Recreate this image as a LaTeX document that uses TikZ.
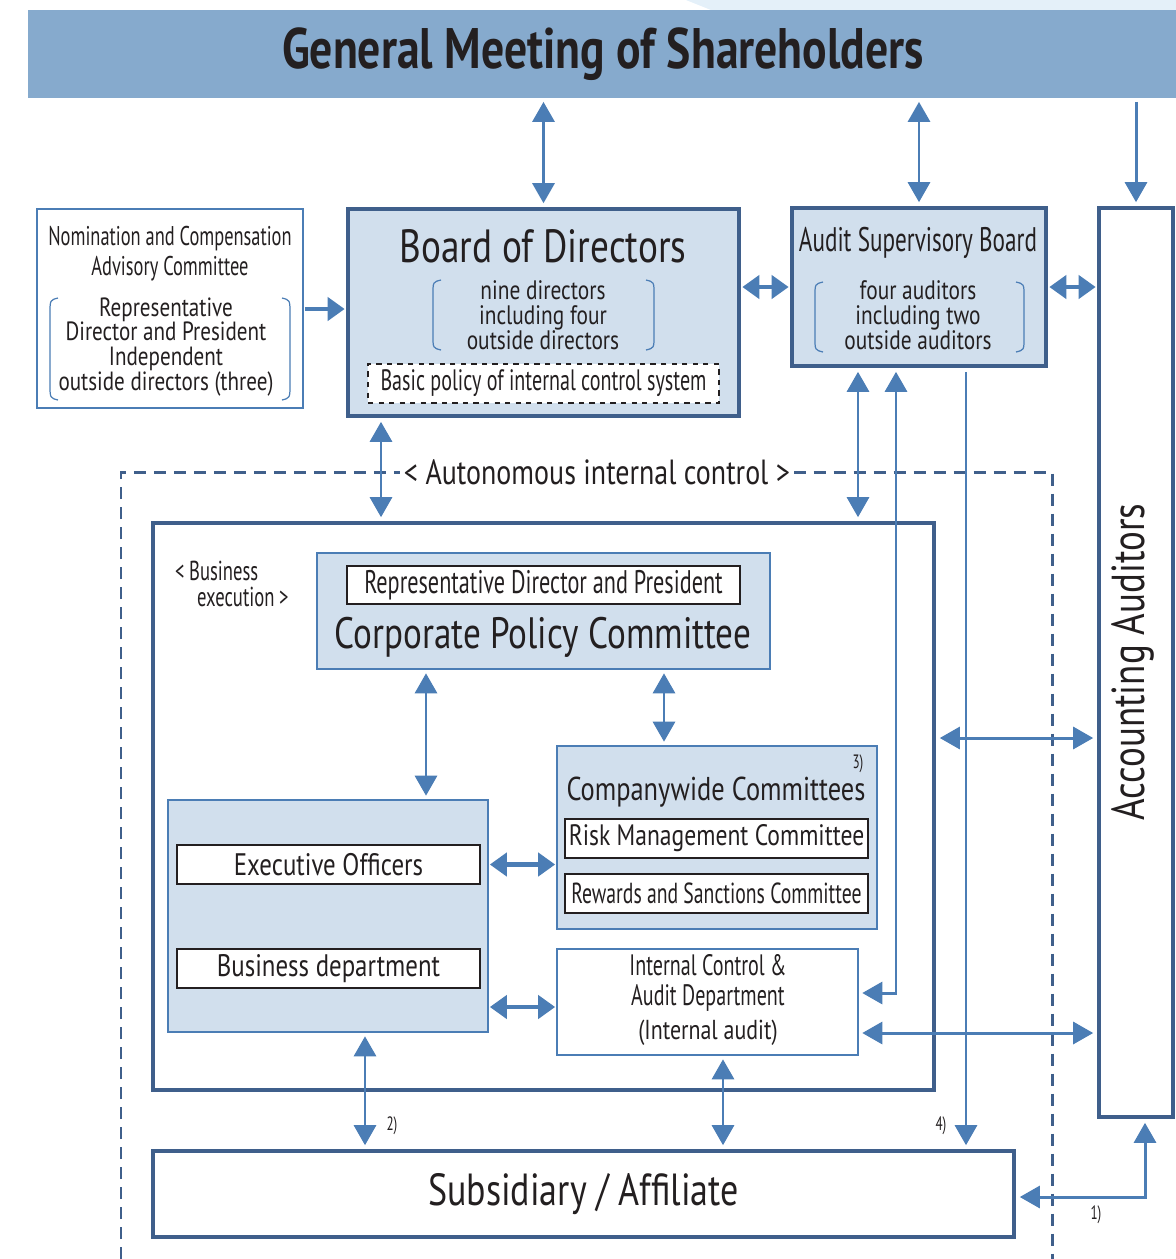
\documentclass[tikz,border=0pt]{standalone}
\usepackage{fontspec}
\setmainfont{PT Sans}
\newfontfamily\narrowfont{PT Sans}[FakeStretch=0.8]
\newfontfamily\tightfont{PT Sans}[FakeStretch=0.68]
\usetikzlibrary{arrows.meta,fit,positioning}
\definecolor{bannerblue}{HTML}{86AACD}
\definecolor{hazeblue}{HTML}{E4F0F9}
\definecolor{arrowblue}{HTML}{4B7DB5}
\definecolor{frameblue}{HTML}{3F5F8B}
\definecolor{paleblue}{HTML}{D1DFED}
\definecolor{inkgrey}{HTML}{231F20}
\newcommand{\fsz}[2]{\fontsize{#1}{#2}\selectfont}
\tikzset{
  banner/.style={
    fill=bannerblue,
    inner sep=0
  },
  organ/.style={
    draw=frameblue,
    line width=2.6pt,
    fill=paleblue,
    inner sep=0
  },
  panel/.style={
    draw=arrowblue,
    line width=0.9pt,
    fill=paleblue,
    inner sep=0
  },
  entry/.style={
    draw=inkgrey,
    line width=1pt,
    fill=white,
    inner sep=0
  },
  brk/.style={
    arrowblue,
    line width=0.7pt
  },
  twoway/.style={
    arrowblue,
    line width=1.7pt,
    shorten <=2pt, shorten >=2pt,
    {Triangle[length=0.4cm,width=0.44cm]}-{Triangle[length=0.4cm,width=0.44cm]}
  },
  oneway/.style={
    twoway,
    -{Triangle[length=0.4cm,width=0.44cm]}
  },
  fattwoway/.style={
    arrowblue,
    line width=2.8pt,
    shorten <=0.6pt, shorten >=0.6pt,
    {Triangle[length=0.34cm,width=0.46cm]}-{Triangle[length=0.34cm,width=0.46cm]}
  },
  fatoneway/.style={
    fattwoway,
    -{Triangle[length=0.34cm,width=0.46cm]}
  },
  dashframe/.style={
    frameblue,
    line width=1.7pt,
    dash pattern=on 0.24cm off 0.16cm
  },
  every node/.style={
    text=inkgrey
  }
}
\begin{document}
\begin{tikzpicture}[x=0.02cm,y=-0.02cm]
\useasboundingbox (0,0) rectangle (1176,1259);
\fill[hazeblue] (686,0) -- (1176,0) -- (1176,12) -- (716,12) -- cycle;
\node[banner, fit={(28,10) (1176,98)}] (gms) {};
\node[anchor=base, font=\narrowfont\bfseries\fsz{32.5}{34}] (gmstext) at (603,68) {General Meeting of Shareholders};

\foreach \name/\x/\y in {rowA/0/287, rowN/0/309, rowD/0/1007, rowK/0/738,
  colB/381/0, colS/858/0, colD/966/0, colE/426/0, colW/664/0, colX/365/0, colI/723/0,
  bendI/896/993, bendS/1145/1197}
  \coordinate (\name) at (\x,\y);

% governance bodies
\node[organ, fill=white, draw=arrowblue, line width=0.8pt, fit={(37,209) (303,408)}] (nom) {};
\node[font=\tightfont\fsz{15.4}{17}, align=center] (nomtitle) at (170,254) {Nomination and Compensation\\Advisory Committee};
\node[font=\narrowfont\fsz{15}{14.2}, align=center] (nommembers) at (166,347) {Representative\\Director and President\\Independent\\outside directors (three)};
\draw[brk] (58,298) .. controls (50,300) .. (50,314) -- (50,384) .. controls (50,398) .. (58,400);
\draw[brk] (282,298) .. controls (290,300) .. (290,314) -- (290,384) .. controls (290,398) .. (282,400);

\node[organ, fit={(348,209) (739,416)}] (board) {};
\node[font=\narrowfont\fsz{26.5}{28}] (boardtitle) at (543,246) {Board of Directors};
\node[font=\narrowfont\fsz{15.2}{14.2}, align=center] (boardmembers) at (543,315) {nine directors\\including four\\outside directors};
\draw[brk] (441,280) .. controls (433,282) .. (433,294) -- (433,336) .. controls (433,348) .. (441,350);
\draw[brk] (646,280) .. controls (654,282) .. (654,294) -- (654,336) .. controls (654,348) .. (646,350);
\node[entry, dashed, fit={(368,364) (719,403)}] (policy) {};
\node[font=\tightfont\fsz{16.8}{18}] (policytext) at (policy) {Basic policy of internal control system};

\node[organ, fit={(792,208) (1046,366)}] (audit) {};
\node[font=\tightfont\fsz{19.4}{20}] (audittitle) at (918,243) {Audit Supervisory Board};
\node[font=\narrowfont\fsz{15.2}{14.2}, align=center] (auditmembers) at (918,315) {four auditors\\including two\\outside auditors};
\draw[brk] (823,282) .. controls (815,284) .. (815,296) -- (815,338) .. controls (815,350) .. (823,352);
\draw[brk] (1016,282) .. controls (1024,284) .. (1024,296) -- (1024,338) .. controls (1024,350) .. (1016,352);

\node[organ, fill=white, fit={(1099,208) (1173,1117)}] (acc) {};
\node[rotate=90, font=\narrowfont\fsz{26.3}{28}] (acctext) at (1133,662) {Accounting Auditors};

% internal control
\draw[dashframe] (121,1259) -- (121,472) -- (1052,472) -- (1052,1259);
\node[fill=white, inner xsep=2pt, font=\narrowfont\fsz{19.9}{21}] (autonomous) at (597,472) {< Autonomous internal control >};

\node[organ, fill=white, fit={(153,523) (934,1090)}] (bizexec) {};
\node[anchor=west, align=left, font=\tightfont\fsz{15.6}{15.2}] (bizlabel) at (169,584) {<\,Business\\\hspace*{0.8em}execution\,>};

\node[panel, fit={(317,553) (770,669)}] (cpc) {};
\node[entry, fit={(347,566) (740,604)}] (president) {};
\node[font=\tightfont\fsz{18.6}{20}] (presidenttext) at (president) {Representative Director and President};
\node[font=\narrowfont\fsz{25}{27}] (cpctitle) at (543,637) {Corporate Policy Committee};

\node[panel, fit={(168,800) (488,1032)}] (execbox) {};
\node[entry, fit={(177,845) (480,884)}] (officers) {};
\node[font=\narrowfont\fsz{17.7}{19}] (officerstext) at (officers) {Executive Officers};
\node[entry, fit={(177,949) (480,988)}] (dept) {};
\node[font=\narrowfont\fsz{17.7}{19}] (depttext) at (dept) {Business department};

\node[panel, fit={(557,746) (877,929)}] (cwc) {};
\node[font=\tightfont\fsz{11}{12}] (note3) at (858,764) {3)};
\node[font=\narrowfont\fsz{18.8}{21}] (cwctitle) at (716,792) {Companywide Committees};
\node[entry, fit={(565,819) (868,858)}] (risk) {};
\node[font=\narrowfont\fsz{16.8}{19}] (risktext) at (risk) {Risk Management Committee};
\node[entry, fit={(565,874) (868,913)}] (rewards) {};
\node[font=\tightfont\fsz{16.5}{18}] (rewardstext) at (rewards) {Rewards and Sanctions Committee};

\node[panel, fill=white, fit={(557,949) (858,1055)}] (icad) {};
\node[inner sep=1pt, font=\tightfont\fsz{16.8}{16.8}, align=center] (icadname) at (708,983) {Internal Control \&\\Audit Department};
\node[inner sep=1pt, font=\narrowfont\fsz{15.6}{17}] (icadaudit) at (708,1033) {(Internal audit)};

\node[organ, fill=white, fit={(153,1151) (1014,1237)}] (sub) {};
\node[font=\narrowfont\fsz{25.6}{27}] (subtext) at (sub) {Subsidiary / Affiliate};

% connectors
\draw[twoway] (gms.south -| board.north) -- (board.north);
\draw[twoway] (gms.south -| audit.north) -- (audit.north);
\draw[oneway] (gms.south -| acc.north) -- (acc.north);
\draw[fatoneway] (nom.east |- rowN) -- (board.west |- rowN);
\draw[fattwoway] (board.east |- rowA) -- (audit.west |- rowA);
\draw[fattwoway] (audit.east |- rowA) -- (acc.west |- rowA);
\draw[twoway] (board.south -| colB) -- (bizexec.north -| colB);
\draw[twoway] (audit.south -| colS) -- (bizexec.north -| colS);
\draw[twoway] (audit.south -| bendI) -- (bendI) -- (icad.east |- bendI);
\draw[oneway] (audit.south -| colD) -- (sub.north -| colD);
\draw[twoway] (cpc.south -| colE) -- (execbox.north -| colE);
\draw[twoway] (cpc.south -| colW) -- (cwc.north -| colW);
\draw[fattwoway] (execbox.east |- officers) -- (cwc.west |- officers);
\draw[fattwoway] (execbox.east |- rowD) -- (icad.west |- rowD);
\draw[twoway] (icad.east |- icadaudit) -- (acc.west |- icadaudit);
\draw[twoway] (bizexec.east |- rowK) -- (acc.west |- rowK);
\draw[twoway] (execbox.south -| colX) -- (sub.north -| colX);
\draw[twoway] (icad.south -| colI) -- (sub.north -| colI);
\draw[twoway] (acc.south -| bendS) -- (bendS) -- (sub.east |- bendS);

\node[font=\tightfont\fsz{11}{12}] (note2) at (392,1126) {2)};
\node[font=\tightfont\fsz{11}{12}] (note4) at (941,1126) {4)};
\node[font=\tightfont\fsz{11}{12}] (note1) at (1096,1215) {1)};
\end{tikzpicture}
\end{document}
